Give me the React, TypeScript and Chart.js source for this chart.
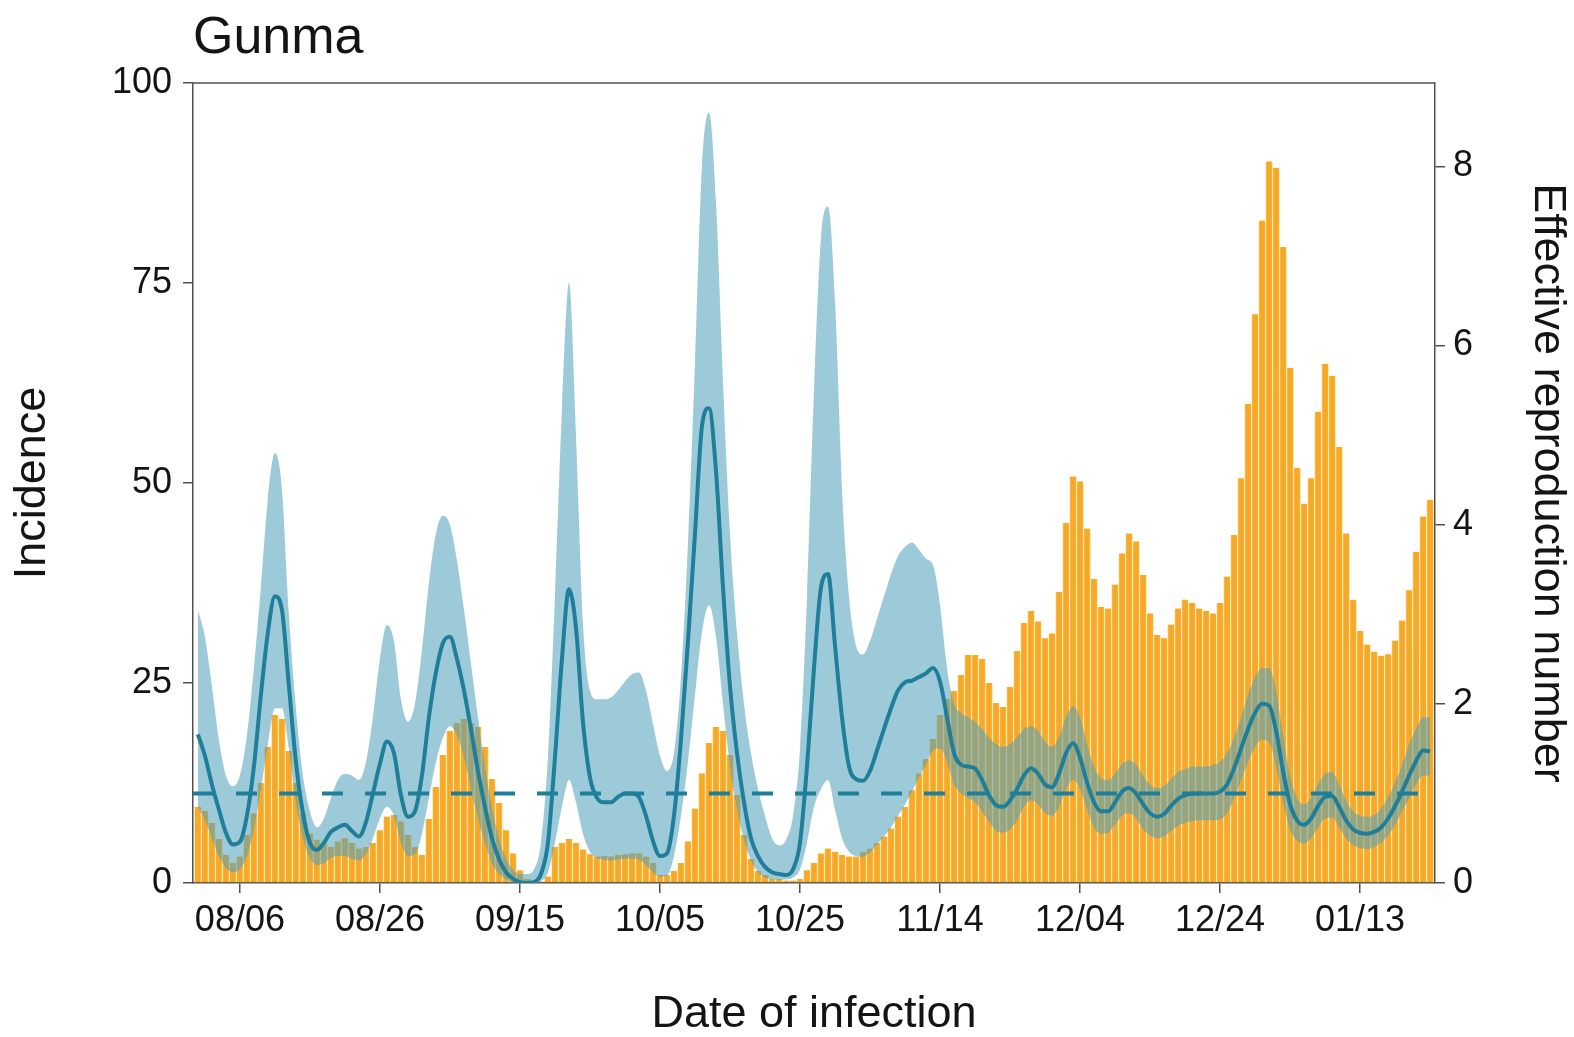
import React, { useEffect, useRef } from 'react';
import { Chart, registerables } from 'chart.js';

Chart.register(...registerables);

// ---------------- data ----------------
const chartTitle = 'Gunma';
const xTitle = 'Date of infection';
const yLeftTitle = 'Incidence';
const yRightTitle = 'Effective reproduction number';

// daily incidence, day 0 = 07/31
const incidence = [
  9.5, 9, 7.5, 5.5, 3.5, 2.5, 3.3, 6, 8.7, 12.5,
  17, 21, 20.5, 16.5, 12.5, 8.7, 6.2, 5.4, 5, 4.5,
  5.2, 5.6, 5, 4.3, 4.5, 5, 6.6, 8.3, 8.5, 7.7,
  6, 4.5, 3.5, 8, 12, 16, 19, 20, 20.5, 20,
  19.5, 17, 13, 10, 6.6, 3.7, 1.6, 0.5, 0.2, 0.2,
  0.8, 4.5, 5, 5.5, 5, 4.2, 3.6, 3.3, 3.4, 3.3,
  3.5, 3.6, 3.7, 3.7, 3.3, 2.5, 1, 1, 1.5, 2.5,
  5.2, 9.3, 13.7, 17.5, 19.5, 19, 16, 11, 6, 3,
  1.5, 1, 0.5, 0.5, 0.3, 0.3, 0.5, 1.6, 2.5, 3.7,
  4.3, 3.9, 3.5, 3.3, 3.3, 3.9, 4.3, 5, 5.8, 6.8,
  8.3, 9.5, 11.6, 13.7, 15.5, 18, 21, 23, 24, 26,
  28.5, 28.5, 28, 25, 22.5, 22, 24.5, 29, 32.5, 34,
  32.7, 30.6, 31.2, 36.4, 45, 50.8, 50.2, 44.3, 38, 34.5,
  34.3, 37.3, 41.2, 43.7, 42.7, 38.5, 33.7, 31, 30.6, 32.3,
  34.3, 35.4, 35, 34.3, 34, 33.7, 35, 38.3, 43.5, 50.6,
  59.9, 71.1, 82.8, 90.2, 89.4, 79.5, 64.4, 51.9, 47.4, 50.6,
  58.9, 64.9, 63.4, 54.5, 43.7, 35.4, 31.5, 29.8, 28.9, 28.4,
  28.6, 30.3, 32.8, 36.6, 41.4, 45.8, 47.9,
];

const rtMean = [
  1.66, 1.42, 1.1, 0.82, 0.56, 0.43, 0.46, 0.75, 1.3, 2.1,
  2.8, 3.2, 3.05, 2.2, 1.35, 0.78, 0.45, 0.37, 0.45, 0.57,
  0.62, 0.65, 0.58, 0.52, 0.68, 1.0, 1.33, 1.58, 1.45, 0.98,
  0.74, 0.8, 1.2, 1.85, 2.35, 2.68, 2.75, 2.5, 2.15, 1.72,
  1.25, 0.85, 0.5, 0.27, 0.12, 0.05, 0.01, 0, 0.01, 0.1,
  0.45, 1.4, 2.5, 3.28, 2.85, 1.8, 1.18, 0.95, 0.9, 0.9,
  0.96, 1.0, 1.0, 0.96, 0.75, 0.47, 0.3, 0.33, 0.75, 1.6,
  2.7, 3.9, 5.1, 5.3, 4.6, 3.3, 2.2, 1.45, 0.9, 0.5,
  0.3, 0.18, 0.12, 0.1, 0.09, 0.15, 0.45, 1.3, 2.4, 3.3,
  3.45, 2.65, 1.85, 1.3, 1.16, 1.14, 1.25, 1.48, 1.72, 1.95,
  2.15, 2.24, 2.26, 2.3, 2.34, 2.4, 2.25, 1.85, 1.45, 1.32,
  1.3, 1.28, 1.15, 0.98, 0.87, 0.85, 0.92, 1.05, 1.2, 1.28,
  1.22, 1.1, 1.07, 1.22, 1.45, 1.56, 1.4, 1.12, 0.9, 0.8,
  0.8, 0.9, 1.02, 1.06, 1.0, 0.88, 0.78, 0.74, 0.77, 0.86,
  0.94, 0.98, 1.0, 1.0, 1.0, 1.0, 1.02, 1.1, 1.28, 1.5,
  1.72, 1.9, 2.0, 1.98, 1.7, 1.25, 0.88, 0.7, 0.65, 0.72,
  0.86, 0.96, 0.97, 0.85, 0.7, 0.6, 0.56, 0.55, 0.57, 0.62,
  0.72, 0.86, 1.02, 1.2, 1.36, 1.48, 1.47,
];

const rtUpper = [
  3.05, 2.75, 2.2, 1.6, 1.2, 1.08, 1.2, 1.65, 2.4, 3.3,
  4.3, 4.8, 4.4, 3.0, 1.95, 1.2, 0.8, 0.62, 0.72, 0.95,
  1.15, 1.22, 1.2, 1.15, 1.35, 1.85, 2.5, 2.88, 2.7, 2.05,
  1.8, 2.0, 2.6, 3.35, 3.9, 4.1, 4.0, 3.6, 3.05, 2.45,
  1.85, 1.3, 0.85, 0.5, 0.28, 0.15, 0.1, 0.1, 0.15, 0.45,
  1.4, 3.2, 5.3, 6.7, 5.0, 2.9, 2.15, 2.05, 2.05, 2.07,
  2.15, 2.25, 2.33, 2.35, 2.15, 1.78, 1.42, 1.25, 1.45, 2.3,
  3.8, 5.8, 8.0, 8.6, 7.6, 5.6, 3.9, 2.8, 2.0, 1.45,
  1.05, 0.75, 0.5, 0.42, 0.48, 0.75, 1.5, 3.2, 5.5, 7.2,
  7.55, 6.5, 4.4, 3.2, 2.65, 2.55, 2.7, 2.95, 3.2, 3.45,
  3.65, 3.75, 3.8, 3.72, 3.62, 3.55, 3.1, 2.4, 2.0, 1.9,
  1.85, 1.8, 1.72, 1.62, 1.55, 1.52, 1.55, 1.63, 1.72, 1.75,
  1.7, 1.58, 1.52, 1.63, 1.85, 1.97, 1.85, 1.55, 1.3, 1.17,
  1.15, 1.22, 1.33, 1.37, 1.32, 1.2, 1.1, 1.06, 1.08, 1.16,
  1.24, 1.27, 1.3, 1.3, 1.3, 1.32, 1.35, 1.45, 1.62, 1.85,
  2.1, 2.3, 2.4, 2.4, 2.15, 1.65, 1.2, 0.95, 0.88, 0.95,
  1.1, 1.22, 1.24, 1.1, 0.92, 0.8, 0.75, 0.74, 0.76, 0.83,
  0.96, 1.12, 1.32, 1.55, 1.72, 1.85, 1.85,
];

const rtLower = [
  0.85, 0.7, 0.5, 0.3, 0.17, 0.12, 0.15, 0.3, 0.6, 1.05,
  1.55, 1.95, 1.95, 1.5, 0.9, 0.5, 0.28, 0.2, 0.22, 0.28,
  0.3, 0.3, 0.27, 0.25, 0.32, 0.5, 0.72, 0.85, 0.75, 0.45,
  0.3, 0.32, 0.55, 0.95, 1.35, 1.62, 1.75, 1.65, 1.4, 1.05,
  0.72, 0.45, 0.22, 0.1, 0.04, 0.01, 0, 0, 0, 0.02,
  0.12, 0.45, 0.85, 1.15, 0.9, 0.55, 0.35, 0.28, 0.26, 0.25,
  0.26, 0.27, 0.27, 0.26, 0.2, 0.12, 0.07, 0.08, 0.3, 0.75,
  1.35, 2.1, 2.8, 3.1, 2.75, 2.0, 1.3, 0.82, 0.48, 0.25,
  0.12, 0.06, 0.04, 0.04, 0.04, 0.06, 0.15, 0.45, 0.85, 1.05,
  1.15, 0.82, 0.5, 0.35, 0.3, 0.29, 0.34, 0.43, 0.52, 0.62,
  0.75, 0.88, 1.02, 1.18, 1.32, 1.48, 1.5, 1.35, 1.1, 1.0,
  0.95, 0.9, 0.8, 0.68, 0.58, 0.56, 0.6, 0.7, 0.85, 0.92,
  0.88, 0.78, 0.75, 0.85, 1.05, 1.15, 1.05, 0.82, 0.62, 0.55,
  0.56, 0.65, 0.75, 0.78, 0.72, 0.6, 0.53, 0.5, 0.52, 0.58,
  0.64, 0.67, 0.69, 0.7, 0.7, 0.7, 0.71, 0.78, 0.95, 1.15,
  1.35, 1.52, 1.6, 1.57, 1.3, 0.9, 0.6, 0.47, 0.44, 0.5,
  0.62, 0.72, 0.73, 0.62, 0.5, 0.42, 0.39, 0.38, 0.4, 0.45,
  0.53, 0.65, 0.8, 0.95, 1.1, 1.2, 1.2,
];

const tickDays = [6, 26, 46, 66, 86, 106, 126, 146, 166];
const tickLabels = ['08/06', '08/26', '09/15', '10/05', '10/25', '11/14', '12/04', '12/24', '01/13'];
const incidenceTicks = [0, 25, 50, 75, 100];
const rtTicks = [0, 2, 4, 6, 8];
const rtThreshold = 1;
const xMin = -0.7;
const xMax = 176.7;
const incidenceMax = 100;
const rtMax = 8.93;

// ---------------- styling ----------------
const FONT = '"Liberation Sans", Arial, Helvetica, sans-serif';
const W = 1574;
const H = 1037;
const AXIS = '#505050';
const TEXT = '#141414';
const TEAL = 'rgb(31,126,154)';

const framePlugin = {
  id: 'frameAndTitle',
  afterDraw(chart: any) {
    const { ctx, chartArea: a } = chart;
    ctx.save();
    ctx.strokeStyle = AXIS;
    ctx.lineWidth = 1.5;
    ctx.beginPath();
    ctx.moveTo(a.left, a.top);
    ctx.lineTo(a.right, a.top);
    ctx.stroke();
    ctx.fillStyle = TEXT;
    ctx.font = `52px ${FONT}`;
    ctx.textAlign = 'left';
    ctx.textBaseline = 'alphabetic';
    ctx.fillText(chartTitle, a.left, 53);
    ctx.restore();
  },
};

function axisGrid() {
  return {
    display: true,
    offset: false,
    drawOnChartArea: false,
    drawTicks: true,
    tickLength: 10,
    color: AXIS,
    lineWidth: 1.5,
  };
}

export default function App() {
  const ref = useRef<HTMLCanvasElement | null>(null);

  useEffect(() => {
    if (!ref.current) return;
    const pts = (arr: number[]) => arr.map((v, i) => ({ x: i, y: v }));

    const chart = new Chart(ref.current, {
      type: 'line',
      data: {
        datasets: [
          {
            type: 'bar',
            label: 'Incidence',
            data: pts(incidence),
            xAxisID: 'x',
            yAxisID: 'y',
            backgroundColor: '#F7A826',
            borderColor: '#FFE6A8',
            borderWidth: { left: 1, right: 1, top: 0, bottom: 0 },
            borderSkipped: false,
            barThickness: 7,
            order: 10,
          } as any,
          {
            type: 'line',
            label: 'upper',
            data: pts(rtUpper),
            xAxisID: 'x',
            yAxisID: 'y2',
            borderWidth: 0,
            borderColor: 'rgba(0,0,0,0)',
            backgroundColor: 'rgba(80,160,186,0.56)',
            pointRadius: 0,
            fill: '+1',
            cubicInterpolationMode: 'monotone',
            clip: 0,
            order: 5,
          } as any,
          {
            type: 'line',
            label: 'lower',
            data: pts(rtLower),
            xAxisID: 'x',
            yAxisID: 'y2',
            borderWidth: 0,
            borderColor: 'rgba(0,0,0,0)',
            pointRadius: 0,
            fill: false,
            cubicInterpolationMode: 'monotone',
            clip: 0,
            order: 5,
          } as any,
          {
            type: 'line',
            label: 'threshold',
            data: [
              { x: xMin, y: rtThreshold },
              { x: xMax, y: rtThreshold },
            ],
            xAxisID: 'x',
            yAxisID: 'y2',
            borderColor: TEAL,
            borderWidth: 4,
            borderDash: [21, 22],
            pointRadius: 0,
            fill: false,
            clip: 0,
            order: 2,
          } as any,
          {
            type: 'line',
            label: 'Rt',
            data: pts(rtMean),
            xAxisID: 'x',
            yAxisID: 'y2',
            borderColor: TEAL,
            borderWidth: 4,
            pointRadius: 0,
            fill: false,
            cubicInterpolationMode: 'monotone',
            clip: 0,
            order: 1,
          } as any,
        ],
      },
      options: {
        responsive: false,
        maintainAspectRatio: false,
        devicePixelRatio: 1,
        animation: false,
        layout: { padding: { top: 83, left: 0, right: 0, bottom: 0 } },
        plugins: {
          legend: { display: false },
          tooltip: { enabled: false },
          title: { display: false },
        },
        scales: {
          x: {
            type: 'linear',
            position: 'bottom',
            min: xMin,
            max: xMax,
            offset: false,
            grid: axisGrid(),
            border: { display: true, color: AXIS, width: 1.5 },
            afterBuildTicks: (s: any) => {
              s.ticks = tickDays.map((v) => ({ value: v }));
            },
            afterFit: (s: any) => {
              s.height = 154;
            },
            ticks: {
              autoSkip: false,
              maxRotation: 0,
              minRotation: 0,
              padding: 6,
              color: TEXT,
              font: { family: FONT, size: 36 },
              callback: (v: any) => {
                const i = tickDays.indexOf(Number(v));
                return i >= 0 ? tickLabels[i] : '';
              },
            },
            title: {
              display: true,
              text: xTitle,
              color: TEXT,
              font: { family: FONT, size: 45, lineHeight: 1 },
              padding: { top: 0, bottom: 0 },
            },
          },
          y: {
            type: 'linear',
            position: 'left',
            min: 0,
            max: incidenceMax,
            grid: axisGrid(),
            border: { display: true, color: AXIS, width: 1.5 },
            afterBuildTicks: (s: any) => {
              s.ticks = incidenceTicks.map((v) => ({ value: v }));
            },
            afterFit: (s: any) => {
              s.width = 193;
            },
            ticks: {
              padding: 11,
              color: TEXT,
              font: { family: FONT, size: 36 },
            },
            title: {
              display: true,
              text: yLeftTitle,
              color: TEXT,
              font: { family: FONT, size: 45, lineHeight: 1 },
              padding: { top: 10, bottom: 0 },
            },
          },
          y2: {
            type: 'linear',
            position: 'right',
            min: 0,
            max: rtMax,
            grid: axisGrid(),
            border: { display: true, color: AXIS, width: 1.5 },
            afterBuildTicks: (s: any) => {
              s.ticks = rtTicks.map((v) => ({ value: v }));
            },
            afterFit: (s: any) => {
              s.width = 139;
            },
            ticks: {
              padding: 8,
              color: TEXT,
              font: { family: FONT, size: 36 },
            },
            title: {
              display: true,
              text: yRightTitle,
              color: TEXT,
              font: { family: FONT, size: 45, lineHeight: 1 },
              padding: { top: 4, bottom: 0 },
            },
          },
        },
      } as any,
      plugins: [framePlugin],
    });

    return () => {
      chart.destroy();
    };
  }, []);

  return (
    <div style={{ position: 'absolute', left: 0, top: 0, width: W, height: H, background: '#fff' }}>
      <canvas ref={ref} width={W} height={H} style={{ width: W, height: H, display: 'block' }} />
    </div>
  );
}
